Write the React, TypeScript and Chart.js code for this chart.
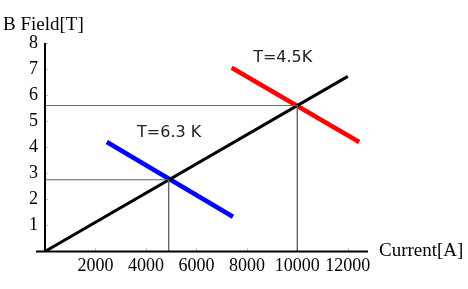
import React, { useEffect, useRef } from "react";
import { Chart, registerables } from "chart.js";

Chart.register(...registerables);

// ---- data ----
const xTicks = [2000, 4000, 6000, 8000, 10000, 12000];
const yTicks = [1, 2, 3, 4, 5, 6, 7, 8];

const loadLineX = [0, 12000];
const loadLineY = [0, 6.72];

const t45X = [7400, 12450];
const t45Y = [7.05, 4.2];

const t63X = [2450, 7450];
const t63Y = [4.2, 1.33];

const guide1X = [0, 10000, 10000];
const guide1Y = [5.6, 5.6, 0];

const guide2X = [0, 4900, 4900];
const guide2Y = [2.75, 2.75, 0];

const labels = [
  { text: "T=4.5K", x: 9420, y: 7.42 },
  { text: "T=6.3 K", x: 4920, y: 4.57 },
];

const xTitle = "Current[A]";
const yTitle = "B Field[T]";

const pts = (xs: number[], ys: number[]) => xs.map((x, i) => ({ x, y: ys[i] }));

const SERIF = "'Liberation Serif', 'Times New Roman', serif";
const SANS = "'DejaVu Sans', sans-serif";

const overlay = {
  id: "overlay",
  beforeDatasetsDraw(chart: any) {
    const { ctx, chartArea, scales } = chart;
    const xs = scales.x;
    const ys = scales.y;
    ctx.save();
    ctx.strokeStyle = "#bbb";
    ctx.lineWidth = 1;
    xTicks.forEach((v) => {
      const px = Math.round(xs.getPixelForValue(v)) + 0.5;
      ctx.beginPath();
      ctx.moveTo(px, chartArea.bottom);
      ctx.lineTo(px, chartArea.bottom - 3);
      ctx.stroke();
    });
    yTicks.forEach((v) => {
      const py = Math.round(ys.getPixelForValue(v)) + 0.5;
      ctx.beginPath();
      ctx.moveTo(chartArea.left, py);
      ctx.lineTo(chartArea.left + 3, py);
      ctx.stroke();
    });
    ctx.restore();
  },
  afterDatasetsDraw(chart: any) {
    const { ctx, chartArea, scales } = chart;
    const xs = scales.x;
    const ys = scales.y;
    ctx.save();
    ctx.strokeStyle = "#000";
    ctx.lineWidth = 2;
    ctx.beginPath();
    ctx.moveTo(chartArea.left, chartArea.top);
    ctx.lineTo(chartArea.left, chartArea.bottom);
    ctx.moveTo(chartArea.left - 9, chartArea.bottom);
    ctx.lineTo(chartArea.right, chartArea.bottom);
    ctx.stroke();

    ctx.fillStyle = "#000";
    ctx.font = `19px ${SERIF}`;
    ctx.textBaseline = "middle";
    ctx.textAlign = "left";
    ctx.fillText(yTitle, 3, 25);
    ctx.fillText(xTitle, chartArea.right + 11, chartArea.bottom);

    ctx.fillStyle = "#222";
    ctx.font = `16px ${SANS}`;
    ctx.textAlign = "center";
    labels.forEach((l) => {
      ctx.fillText(l.text, xs.getPixelForValue(l.x), ys.getPixelForValue(l.y));
    });
    ctx.restore();
  },
};

export default function App() {
  const ref = useRef<HTMLCanvasElement | null>(null);
  useEffect(() => {
    if (!ref.current) return;
    const chart = new Chart(ref.current, {
      type: "scatter",
      data: {
        datasets: [
          { data: pts(guide1X, guide1Y), showLine: true, borderColor: "#666", borderWidth: 1, pointRadius: 0 },
          { data: pts(guide2X, guide2Y), showLine: true, borderColor: "#666", borderWidth: 1, pointRadius: 0 },
          { data: pts(loadLineX, loadLineY), showLine: true, borderColor: "#000", borderWidth: 3, pointRadius: 0 },
          { data: pts(t45X, t45Y), showLine: true, borderColor: "#f00", borderWidth: 4.5, pointRadius: 0 },
          { data: pts(t63X, t63Y), showLine: true, borderColor: "#00f", borderWidth: 4.5, pointRadius: 0 },
        ],
      },
      options: {
        animation: false,
        responsive: false,
        devicePixelRatio: 1,
        layout: { padding: { left: 22, top: 43, right: 100, bottom: 8 } },
        plugins: { legend: { display: false }, tooltip: { enabled: false } },
        scales: {
          x: {
            type: "linear",
            min: 0,
            max: 12800,
            border: { display: false },
            grid: { display: false, drawTicks: false },
            afterBuildTicks: (s: any) => {
              s.ticks = xTicks.map((v) => ({ value: v }));
            },
            ticks: {
              color: "#000",
              font: { family: SERIF, size: 18 },
              padding: 4,
              maxRotation: 0,
              autoSkip: false,
              callback: (v: any) => String(v),
            },
          },
          y: {
            type: "linear",
            min: 0,
            max: 8,
            border: { display: false },
            grid: { display: false, drawTicks: false },
            afterBuildTicks: (s: any) => {
              s.ticks = yTicks.map((v) => ({ value: v }));
            },
            ticks: {
              color: "#000",
              font: { family: SERIF, size: 18 },
              padding: 7,
              autoSkip: false,
              callback: (v: any) => String(v),
            },
          },
        },
      },
      plugins: [overlay],
    });
    return () => chart.destroy();
  }, []);
  return (
    <div style={{ position: "absolute", left: 0, top: 0, width: 468, height: 289, background: "#fff" }}>
      <canvas ref={ref} width={468} height={289} />
    </div>
  );
}
